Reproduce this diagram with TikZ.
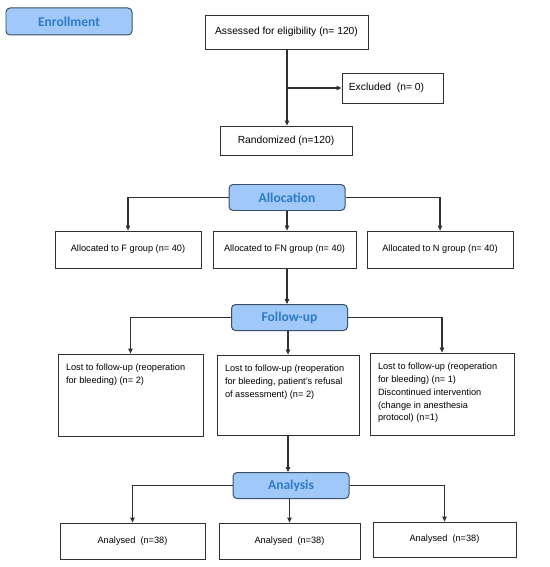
\documentclass[tikz,border=0pt]{standalone}
\usepackage{fontspec}
\setmainfont{Liberation Sans}
\newfontfamily\labfont{Carlito}
\usetikzlibrary{arrows.meta}
\definecolor{labfill}{HTML}{A0C8F8}
\definecolor{labtext}{HTML}{2E7BC4}
\definecolor{labborder}{HTML}{3C4F66}
\definecolor{linec}{HTML}{303030}
\begin{document}
\begin{tikzpicture}[x=1bp,y=-1bp,
  stage/.style={draw=labborder, line width=1pt, fill=labfill, rounded corners=4bp,
    minimum width=116bp, minimum height=26bp, inner sep=0pt,
    font=\labfont\bfseries\fontsize{13.5bp}{15bp}\selectfont, text=labtext},
  bigbox/.style={draw=linec, line width=0.8pt, inner sep=0pt,
    font=\fontsize{10.3bp}{12bp}\selectfont},
  box/.style={draw=linec, line width=0.8pt, inner sep=0pt,
    font=\fontsize{9.2bp}{12.8bp}\selectfont},
  conn/.style={draw=linec, line width=1.1pt},
  arr/.style={conn, -{Triangle[length=5bp,width=4.5bp]}}
]
\useasboundingbox (0,0) rectangle (550,567);
% enrollment
\node[stage, minimum width=126bp, minimum height=27bp] (enr) at (69,21.5) {Enrollment};
\node[bigbox, minimum width=163bp, minimum height=34bp] (ass) at (286.5,32) {Assessed for eligibility (n= 120)};
\node[bigbox, minimum width=101bp, minimum height=30bp, align=left] (exc) at (392.5,88) {\hspace*{-12bp}Excluded~ (n= 0)};
\node[bigbox, minimum width=132bp, minimum height=29bp] (ran) at (286,140.5) {Randomized (n=120)};
\coordinate (b1) at (287,88);
\draw[arr] (ass.south -| b1) -- (ran.north -| b1);
\draw[arr] (b1) -- (exc.west);
% allocation
\node[stage] (alloc) at (287,197.5) {Allocation};
\node[box, minimum width=146bp, minimum height=37bp] (af) at (128,249.5) {Allocated to F group (n= 40)};
\node[box, minimum width=143bp, minimum height=37bp] (afn) at (284.5,249.5) {Allocated to FN group (n= 40)};
\node[box, minimum width=146bp, minimum height=37bp] (an) at (440,249.5) {Allocated to N group (n= 40)};
\draw[arr] (alloc.west) -| (af.north);
\draw[arr] (alloc.east) -| (an.north);
\draw[arr] (alloc.south) -- (alloc.south |- afn.north);
% follow-up
\node[stage] (fol) at (289.5,317.5) {Follow-up};
\draw[arr] (afn.south -| alloc.south) -- (fol.north -| alloc.south);
\node[box] (lf) at (130.5,395) {\begin{minipage}[t][82bp][t]{145bp}\vspace{10bp}\leftskip=8bp Lost to follow-up (reoperation\\ for bleeding) (n= 2)\end{minipage}};
\node[box] (lfn) at (288,395) {\begin{minipage}[t][80bp][t]{142bp}\vspace{10bp}\leftskip=8bp Lost to follow-up (reoperation\\ for bleeding, patient's refusal\\ of assessment) (n= 2)\end{minipage}};
\node[box] (ln) at (442,394) {\begin{minipage}[t][82bp][t]{144bp}\vspace{10bp}\leftskip=8bp Lost to follow-up (reoperation\\ for bleeding) (n= 1)\\ Discontinued intervention\\ (change in anesthesia\\ protocol) (n=1)\end{minipage}};
\draw[arr] (fol.west) -| (lf.north);
\draw[arr] (fol.east) -| (ln.north);
\draw[arr] (fol.south -| lfn.north) -- (lfn.north);
% analysis
\node[stage] (ana) at (291,485.5) {Analysis};
\draw[arr] (lfn.south) -- (ana.north -| lfn.south);
\node[box, minimum width=145bp, minimum height=36bp] (nf) at (132.5,541) {Analysed~ (n=38)};
\node[box, minimum width=141bp, minimum height=36bp] (nfn) at (289.5,541) {Analysed~ (n=38)};
\node[box, minimum width=143bp, minimum height=35bp] (nn) at (444.5,539.5) {Analysed~ (n=38)};
\draw[arr] (ana.west) -| (nf.north);
\draw[arr] (ana.east) -| (nn.north);
\draw[arr] (ana.south -| nfn.north) -- (nfn.north);
\end{tikzpicture}
\end{document}
